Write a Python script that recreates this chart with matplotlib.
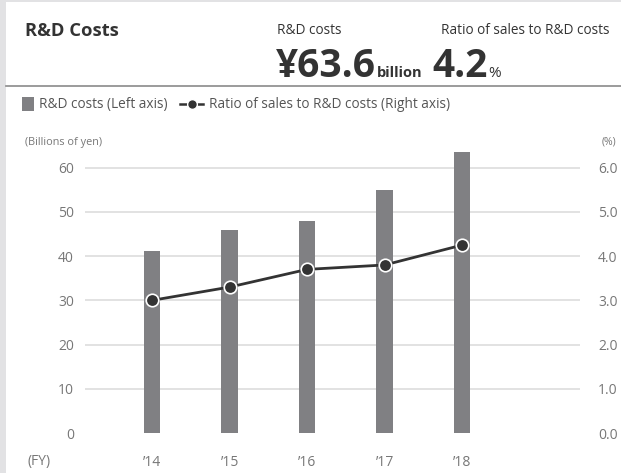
import numpy as np
import matplotlib.pyplot as plt
from matplotlib.lines import Line2D
from matplotlib.patches import Rectangle

plt.rcParams['font.family'] = ['Open Sans', 'DejaVu Sans']

# Données
years = ['’14', '’15', '’16', '’17', '’18']
rd_costs = [41.2, 45.9, 48.0, 55.0, 63.6]      # milliards de yens
ratio = [3.0, 3.3, 3.7, 3.8, 4.25]             # %
left_ticks = [0, 10, 20, 30, 40, 50, 60]
right_ticks = [0.0, 1.0, 2.0, 3.0, 4.0, 5.0, 6.0]

bar_color = '#808083'
line_color = '#333333'
text_color = '#777777'

W, H = 621, 473
fig = plt.figure(figsize=(W / 100, H / 100), dpi=100)
fig.patch.set_facecolor('white')

# bandes grises du cadre
fig.patches.append(Rectangle((0, 0), 6 / W, 1, transform=fig.transFigure,
                             facecolor='#e2e2e4', edgecolor='none'))
fig.patches.append(Rectangle((0, 1 - 2 / H), 1, 2 / H, transform=fig.transFigure,
                             facecolor='#e2e2e4', edgecolor='none'))
fig.lines.append(Line2D([6 / W, 1], [1 - 86 / H, 1 - 86 / H], transform=fig.transFigure,
                        color='#8a8a8a', lw=1.2))

# En-tête
fig.text(25 / W, 1 - 31 / H, 'R&D Costs', fontsize=13.2, fontweight='bold',
         color='#333333', va='center', ha='left')
fig.text(277 / W, 1 - 31 / H, 'R&D costs', fontsize=9.8, color='#333333', va='center')
fig.text(441 / W, 1 - 31 / H, 'Ratio of sales to R&D costs', fontsize=9.8,
         color='#333333', va='center')

fig.canvas.draw()
r = fig.canvas.get_renderer()
base = 1 - 77 / H
t1 = fig.text(276 / W, base, '¥63.6', fontsize=28, fontweight='bold', color='#333333',
              va='baseline')
bb = t1.get_window_extent(r)
t3 = fig.text((bb.x1 + 1) / W, base, 'billion', fontsize=10.5, fontweight='bold',
              color='#333333', va='baseline')
t2 = fig.text(432 / W, base, '4.2', fontsize=28, fontweight='bold', color='#333333',
              va='baseline')
bb = t2.get_window_extent(r)
fig.text((bb.x1 + 1) / W, base, '%', fontsize=11, color='#333333', va='baseline')

# Légende
fig.patches.append(Rectangle((22 / W, 1 - 111 / H), 12 / W, 14 / H, transform=fig.transFigure,
                             facecolor=bar_color, edgecolor='none'))
fig.text(39 / W, 1 - 104 / H, 'R&D costs (Left axis)', fontsize=9.8, color='#555555',
         va='center')
fig.lines.append(Line2D([180 / W, 203 / W], [1 - 104 / H, 1 - 104 / H],
                        transform=fig.transFigure, color=line_color, lw=1.8))
fig.lines.append(Line2D([191.5 / W], [1 - 104 / H], transform=fig.transFigure,
                        marker='o', markersize=7, color=line_color,
                        markeredgecolor='white', linestyle='none'))
fig.text(209 / W, 1 - 104 / H, 'Ratio of sales to R&D costs (Right axis)', fontsize=9.8,
         color='#555555', va='center')

# Graphique
ax = fig.add_axes([85 / W, 1 - 433 / H, 495 / W, 283 / H])
x = np.arange(len(years))
ax.bar(x, rd_costs, width=0.21, color=bar_color, zorder=2)
ax.set_xlim(-0.865, 5.52)
ax.set_ylim(0, 64)
ax.set_yticks(left_ticks)
for v in left_ticks[1:]:
    ax.axhline(v, color='#dddddd', lw=1.2, zorder=1)
ax.set_xticks(x)
ax.set_xticklabels(years)
ax.tick_params(axis='both', length=0, labelsize=10, labelcolor=text_color)
ax.tick_params(axis='x', pad=16)
ax.tick_params(axis='y', pad=8)
for s in ax.spines.values():
    s.set_visible(False)

ax2 = ax.twinx()
ax2.set_ylim(0, 6.4)
ax2.set_yticks(right_ticks)
ax2.set_yticklabels([f'{v:.1f}' for v in right_ticks])
ax2.tick_params(axis='y', length=0, labelsize=10, labelcolor=text_color, pad=13)
for s in ax2.spines.values():
    s.set_visible(False)
ax2.plot(x, ratio, color=line_color, lw=2, marker='o', markersize=9,
         markerfacecolor=line_color, markeredgecolor='white', markeredgewidth=1.2,
         zorder=3)

fig.text(25 / W, 1 - 142 / H, '(Billions of yen)', fontsize=7.8, color=text_color, va='center')
fig.text(616 / W, 1 - 142 / H, '(%)', fontsize=7.5, color=text_color, va='center', ha='right')
fig.text(28 / W, 1 - 461 / H, '(FY)', fontsize=10, color=text_color, va='center')

fig.savefig('out.png', dpi=100)
